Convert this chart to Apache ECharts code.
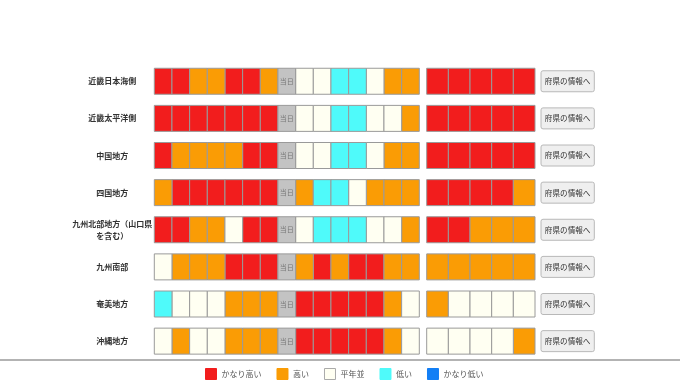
<!DOCTYPE html>
<html><head><meta charset="utf-8">
<script src="https://cdn.jsdelivr.net/npm/echarts@6/dist/echarts.min.js"></script>
<style>html,body{margin:0;padding:0;background:#fff}#c{width:680px;height:382px}</style>
</head><body><div id="c"></div>
<script>
// ---- data ----
const regions = ['近畿日本海側','近畿太平洋側','中国地方','四国地方','九州北部地方（山口県を含む）','九州南部','奄美地方','沖縄地方'];
const levels = ['かなり高い','高い','平年並','低い','かなり低い'];
const levelColors = ['#f21d1d','#fa9c05','#fffff2','#4ffafa','#137ff5'];
const dayCats = ['-7','-6','-5','-4','-3','-2','-1','当日','+1','+2','+3','+4','+5','+6','+7'];
const weekCats = ['1','2','3','4','5'];
const buttonText = '府県の情報へ';
// level index per day (null = 当日)
const dailyLevels = [
  [0,0,1,1,0,0,1,null,2,2,3,3,2,1,1],
  [0,0,0,0,0,0,0,null,2,2,3,3,2,2,1],
  [0,1,1,1,1,0,0,null,2,2,3,3,2,1,1],
  [1,0,0,0,0,0,0,null,1,3,3,2,1,1,1],
  [0,0,1,1,2,0,0,null,2,3,3,3,2,2,1],
  [2,1,1,1,0,0,0,null,1,0,1,0,0,1,1],
  [3,2,2,2,1,1,1,null,0,0,0,0,0,1,2],
  [2,1,2,2,1,1,1,null,0,0,0,0,0,1,2]
];
const weekLevels = [
  [0,0,0,0,0],
  [0,0,0,0,0],
  [0,0,0,0,0],
  [0,0,0,0,1],
  [0,0,1,1,1],
  [1,1,1,1,1],
  [1,2,2,2,2],
  [2,2,2,2,1]
];

// ---- chart ----
(function(){
const CELL_H = 26;
function cellRender(color){
  return function(params, api){
    const c = api.coord([api.value(0), api.value(1)]);
    const w = api.size([1,0])[0];
    return {type:'rect', shape:{x:c[0]-w/2, y:c[1]-CELL_H/2, width:w, height:CELL_H},
      style:{fill:color, stroke:'#9a9a9a', lineWidth:1}};
  };
}
const series = [];
levels.forEach((name, li) => {
  const d1 = [], d2 = [];
  dailyLevels.forEach((row, r) => row.forEach((v, i) => { if (v === li) d1.push([i, r]); }));
  weekLevels.forEach((row, r) => row.forEach((v, i) => { if (v === li) d2.push([i, r]); }));
  series.push({type:'custom', name, xAxisIndex:0, yAxisIndex:0, data:d1, renderItem:cellRender(levelColors[li]), itemStyle:{color:levelColors[li]}});
  series.push({type:'custom', name, xAxisIndex:1, yAxisIndex:1, data:d2, renderItem:cellRender(levelColors[li]), itemStyle:{color:levelColors[li]}});
});
const todayData = [];
dailyLevels.forEach((row, r) => row.forEach((v, i) => { if (v === null) todayData.push([i, r]); }));
series.push({type:'custom', name:'当日', xAxisIndex:0, yAxisIndex:0, data:todayData,
  renderItem:function(params, api){
    const c = api.coord([api.value(0), api.value(1)]);
    const w = api.size([1,0])[0];
    return {type:'group', children:[
      {type:'rect', shape:{x:c[0]-w/2, y:c[1]-CELL_H/2, width:w, height:CELL_H}, style:{fill:'#c3c3c3', stroke:'#9a9a9a', lineWidth:1}},
      {type:'text', x:c[0], y:c[1], style:{text:dayCats[api.value(0)], fill:'#777', fontSize:7, align:'center', verticalAlign:'middle', fontFamily:'Noto Sans CJK JP'}}
    ]};
  }});
series.push({type:'custom', name:'button', xAxisIndex:2, yAxisIndex:2, data:regions.map((r,i)=>[0,i]),
  renderItem:function(params, api){
    const c = api.coord([api.value(0), api.value(1)]);
    const w = api.size([1,0])[0];
    return {type:'group', children:[
      {type:'rect', shape:{x:c[0]-w/2, y:c[1]-10.5, width:w, height:21, r:2}, style:{fill:'#efefef', stroke:'#b8b8b8', lineWidth:1}},
      {type:'text', x:c[0], y:c[1], style:{text:buttonText, fill:'#333', fontSize:7.6, align:'center', verticalAlign:'middle', fontFamily:'Noto Sans CJK JP'}}
    ]};
  }});

const gTop = 62.7, gBottom = 22.3;
const hiddenY = i => ({type:'category', gridIndex:i, data:regions, inverse:true, show:false});
const option = {
  animation:false,
  textStyle:{fontFamily:'Noto Sans CJK JP'},
  grid:[
    {left:154.3, width:265, top:gTop, bottom:gBottom},
    {left:426.7, width:108.3, top:gTop, bottom:gBottom},
    {left:541, width:53.3, top:gTop, bottom:gBottom}
  ],
  xAxis:[
    {type:'category', gridIndex:0, data:dayCats, show:false},
    {type:'category', gridIndex:1, data:weekCats, show:false},
    {type:'category', gridIndex:2, data:['btn'], show:false}
  ],
  yAxis:[
    {type:'category', gridIndex:0, data:regions, inverse:true,
     axisLine:{show:false}, axisTick:{show:false}, splitLine:{show:false},
     axisLabel:{margin:42, align:'center', fontSize:8, fontWeight:'bold', color:'#333', lineHeight:12,
       fontFamily:'Noto Sans CJK JP',
       formatter:v => v.length > 10 ? v.slice(0,10) + '\n' + v.slice(10) : v}},
    hiddenY(1), hiddenY(2)
  ],
  legend:{left:205, top:368, padding:0, itemWidth:11, itemHeight:11, itemGap:15, icon:'rect',
    textStyle:{fontSize:8, color:'#555', fontFamily:'Noto Sans CJK JP'},
    data:levels.map((n,i)=>({name:n, itemStyle:{color:levelColors[i], borderColor:i===2?'#aaa':levelColors[i], borderWidth:1}})),
    selectedMode:false},
  graphic:[{type:'line', shape:{x1:0, y1:360, x2:680, y2:360}, style:{stroke:'#9a9a9a', lineWidth:1.5}}],
  series
};
echarts.init(document.getElementById('c')).setOption(option);
})();
</script></body></html>
